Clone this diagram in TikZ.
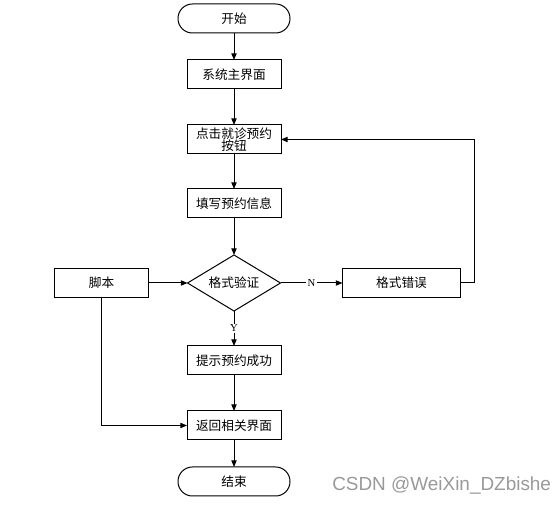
\documentclass[tikz,border=0pt]{standalone}
\usepackage{fontspec}
\setmainfont{Noto Sans CJK SC}
\newfontfamily\ynfont{Liberation Serif}
\newfontfamily\markfont{Liberation Sans}
\usetikzlibrary{positioning,arrows.meta,shapes.geometric}

\begin{document}
\begin{tikzpicture}[
  x=0.75pt, y=-0.75pt,
  font=\fontsize{9.5pt}{10pt}\selectfont,
  node distance=20pt,
  >={Triangle[length=5pt,width=4pt]},
  % --- flowchart shapes ---
  proc/.style={draw=black, line width=0.75pt, minimum width=70.5pt, minimum height=21.75pt, inner sep=0pt, outer sep=0pt, align=center},
  term/.style={proc, minimum width=84pt, rounded corners=10.8pt},
  decide/.style={draw=black, diamond, aspect=1.66, line width=0.75pt, minimum width=69.75pt, minimum height=42pt, inner sep=0pt, outer sep=0pt},
  % --- connectors ---
  flow/.style={->, line width=0.75pt},
  yn/.style={fill=white, inner sep=1pt, font=\ynfont\fontsize{8pt}{9pt}\selectfont},
]
\useasboundingbox (0,0) rectangle (557,505);

% main column
\node[term] (start) at (234,18.5) {开始};
\node[proc, below=20.25pt of start] (home) {系统主界面};
\node[proc, below=27pt of home, font=\fontsize{9.5pt}{9pt}\selectfont] (click) {点击就诊预约\\按钮};
\node[proc, below=26.25pt of click] (fill) {填写预约信息};
\node[decide, below=27.75pt of fill] (check) {格式验证};
\node[proc, below=26.25pt of check] (tip) {提示预约成功};
\node[proc, below=27pt of tip] (ret) {返回相关界面};
\node[term, below=20.25pt of ret] (stop) {结束};

% side boxes
\node[proc, left=29.25pt of check] (script) {脚本};
\node[proc, right=46.5pt of check, minimum width=88.5pt] (err) {格式错误};

% watermark
\node[font=\markfont\fontsize{14.2pt}{15pt}\selectfont, text=black!40, anchor=west, inner sep=0pt] (mark) at (332,486) {CSDN @WeiXin\_DZbishe};

% =================== RELATIONS ===================
\draw[flow] (start) -- (home);
\draw[flow] (home) -- (click);
\draw[flow] (click) -- (fill);
\draw[flow] (fill) -- (check);
\draw[flow] (check) -- node[yn]{Y} (tip);
\draw[flow] (tip) -- (ret);
\draw[flow] (ret) -- (stop);

% validation branches
\draw[flow] (script) -- (check);
\draw[flow] (check) -- node[yn]{N} (err);
\draw[flow] (err.east) -- ++(14,0) |- (click.east);
\draw[flow] (script.south) |- (ret.west);

\end{tikzpicture}
\end{document}
